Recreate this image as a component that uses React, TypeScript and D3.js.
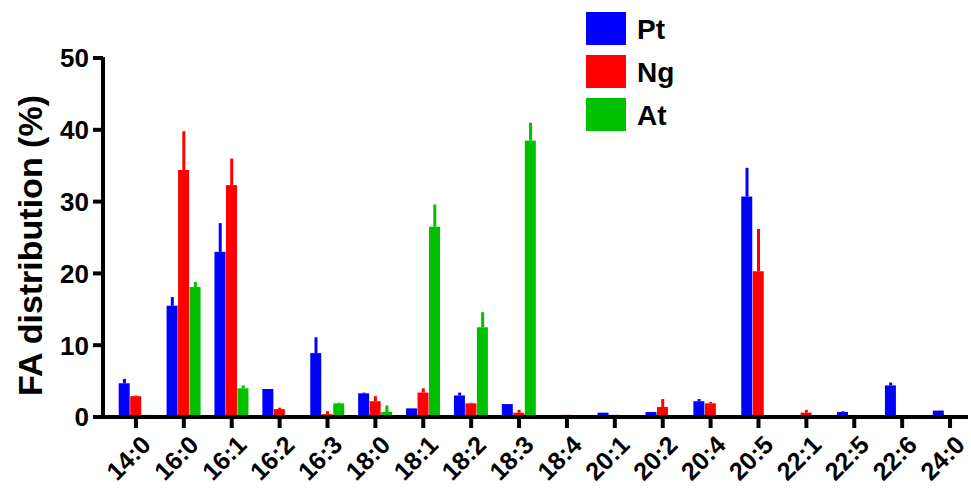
import React from 'react';
import * as d3 from 'd3';

const categories = ['14:0','16:0','16:1','16:2','16:3','18:0','18:1','18:2','18:3','18:4','20:1','20:2','20:4','20:5','22:1','22:5','22:6','24:0'];
const seriesNames = ['Pt', 'Ng', 'At'];
const colors = ['#0000ff', '#ff0000', '#00c000'];
const ptMean = [4.7,15.5,23,3.9,8.9,3.3,1.2,3.0,1.8,0,0.6,0.7,2.2,30.7,0,0.7,4.4,0.9];
const ptErr  = [5.3,16.7,27,3.9,11.1,3.4,1.2,3.4,1.8,0,0.6,0.7,2.5,34.7,0,0.8,4.8,0.9];
const ngMean = [2.9,34.4,32.3,1.1,0.4,2.2,3.4,1.9,0.6,0.3,0.3,1.4,1.9,20.3,0.6,0.1,0,0];
const ngErr  = [3.0,39.8,36,1.3,0.8,2.9,4.0,2.0,1.0,0.3,0.3,2.5,2.1,26.2,1.0,0.1,0,0];
const atMean = [0.3,18.1,4.0,0,1.9,0.7,26.5,12.5,38.5,0,0,0,0,0,0,0,0,0];
const atErr  = [0.3,18.8,4.4,0,2.0,1.6,29.6,14.6,41,0,0,0,0,0,0,0,0,0];
const yTicks = [0, 10, 20, 30, 40, 50];

const means = [ptMean, ngMean, atMean];
const errs = [ptErr, ngErr, atErr];

export default function App() {
  const W = 971, H = 502;
  const left = 103, right = 968, top = 58, bottom = 417;
  const x = d3.scaleBand().domain(categories).range([112, 974]).paddingInner(0);
  const y = d3.scaleLinear().domain([0, 50]).range([bottom, top]);
  const bw = 11.5;
  const font = 'Arial, "Liberation Sans", sans-serif';

  return (
    <svg width={W} height={H} style={{ position: 'absolute', left: 0, top: 0 }} fontFamily={font}>
      {means.map((m, s) => categories.map((c, i) => {
        const cx = (x(c) || 0) + x.bandwidth() / 2 + (s - 1) * bw;
        const x0 = cx - bw / 2;
        return (
          <g key={`${s}-${i}`}>
            {errs[s][i] > m[i] && (
              <line x1={cx} x2={cx} y1={y(m[i])} y2={y(errs[s][i])} stroke={colors[s]} strokeWidth={3} />
            )}
            {m[i] > 0 && (
              <rect x={x0} width={bw - 0.5} y={y(m[i])} height={bottom - y(m[i])} fill={colors[s]} />
            )}
          </g>
        );
      }))}
      <line x1={left} x2={left} y1={top - 1} y2={bottom + 2} stroke="#000" strokeWidth={4} />
      <line x1={left - 2} x2={right} y1={bottom} y2={bottom} stroke="#000" strokeWidth={4} />
      {yTicks.map(t => (
        <g key={t}>
          <line x1={left - 10} x2={left} y1={y(t)} y2={y(t)} stroke="#000" strokeWidth={4} />
          <text x={left - 14} y={y(t)} dy="0.36em" textAnchor="end" fontSize={26} fontWeight="bold">{t}</text>
        </g>
      ))}
      {categories.map(c => {
        const cx = (x(c) || 0) + x.bandwidth() / 2;
        return (
          <g key={c}>
            <line x1={cx} x2={cx} y1={bottom} y2={bottom + 11} stroke="#000" strokeWidth={4} />
            <text transform={`translate(${cx + 4},${bottom + 17}) rotate(-45)`} textAnchor="end" dy="0.7em" fontSize={25} fontWeight="bold">{c}</text>
          </g>
        );
      })}
      <text transform={`translate(42,${(top + bottom) / 2 + 8}) rotate(-90)`} textAnchor="middle" fontSize={34} fontWeight="bold">FA distribution (%)</text>
      {seriesNames.map((n, i) => (
        <g key={n} transform={`translate(586,${12 + i * 43})`}>
          <rect width={40} height={33} fill={colors[i]} />
          <text x={51} y={17} dy="0.36em" fontSize={28} fontWeight="bold">{n}</text>
        </g>
      ))}
    </svg>
  );
}
